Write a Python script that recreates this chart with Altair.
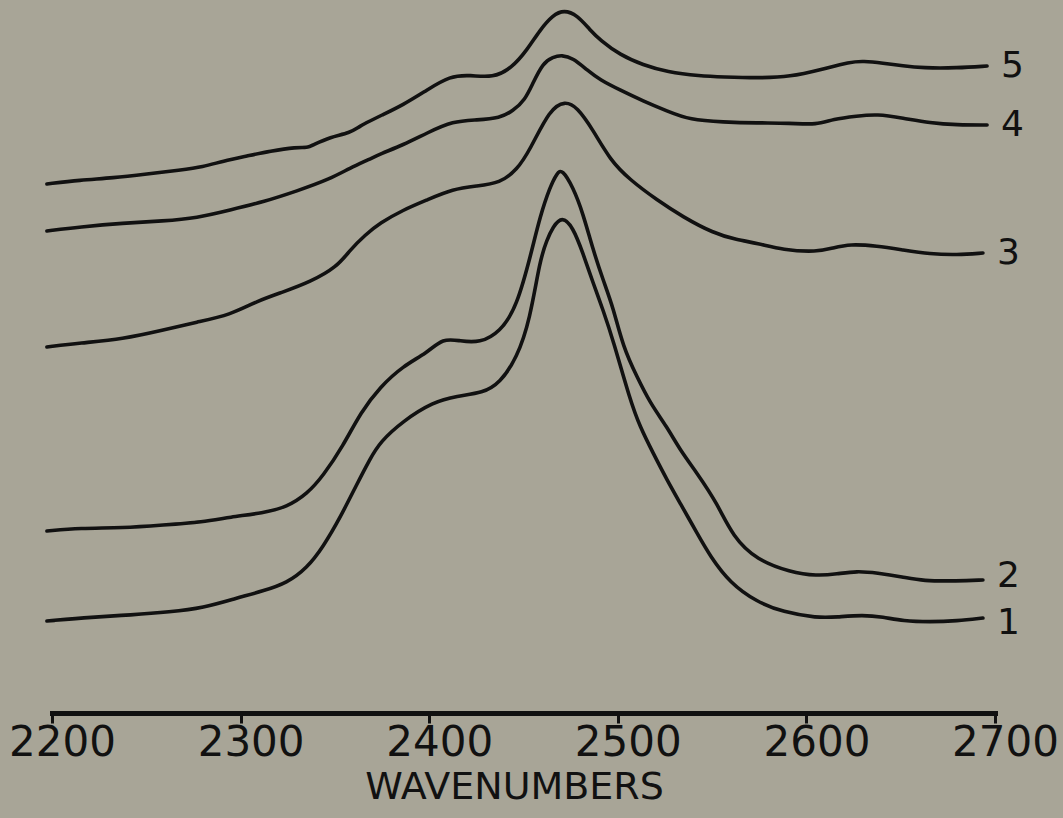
import altair as alt
import pandas as pd

# Five offset absorbance traces, 2200-2700 cm^-1 (arbitrary stacked units)
wn_5 = [2197.3, 2214.8, 2232.3, 2250.4, 2267.9, 2280.1, 2290.7, 2303.4, 2315.6, 2329.9,
        2335.2, 2338.4, 2347.4, 2358.0, 2363.3, 2368.6, 2373.9, 2386.1, 2398.8, 2411.0,
        2421.6, 2433.8, 2443.8, 2451.9, 2458.7, 2465.6, 2471.5, 2478.4, 2485.3, 2490.6,
        2501.2, 2513.4, 2526.1, 2543.6, 2555.8, 2573.8, 2591.3, 2608.8, 2623.1, 2630.0,
        2640.6, 2651.2, 2661.8, 2679.8, 2695.8]
ab_5 = [5.29, 5.33, 5.35, 5.39, 5.43, 5.46, 5.52, 5.57, 5.62, 5.66,
        5.65, 5.68, 5.76, 5.80, 5.87, 5.92, 5.97, 6.08, 6.23, 6.37,
        6.38, 6.35, 6.45, 6.63, 6.83, 6.98, 7.03, 6.98, 6.83, 6.73,
        6.58, 6.48, 6.41, 6.37, 6.36, 6.35, 6.36, 6.44, 6.51, 6.52,
        6.50, 6.47, 6.45, 6.45, 6.47]

wn_4 = [2197.3, 2214.8, 2237.6, 2258.9, 2276.9, 2294.4, 2311.9, 2329.9, 2347.4, 2358.0,
        2368.6, 2373.9, 2386.1, 2398.8, 2412.6, 2425.3, 2437.5, 2444.4, 2450.8, 2455.0,
        2460.3, 2465.6, 2470.4, 2476.2, 2483.7, 2490.6, 2501.2, 2513.4, 2526.1, 2538.3,
        2555.8, 2573.8, 2591.3, 2605.6, 2614.1, 2626.8, 2637.4, 2651.2, 2665.5, 2679.8,
        2695.8]
ab_4 = [4.82, 4.86, 4.90, 4.92, 4.95, 5.03, 5.11, 5.22, 5.34, 5.45,
        5.54, 5.59, 5.68, 5.80, 5.92, 5.93, 5.95, 6.02, 6.13, 6.30,
        6.50, 6.56, 6.58, 6.55, 6.43, 6.33, 6.23, 6.12, 6.02, 5.93,
        5.91, 5.90, 5.90, 5.88, 5.94, 5.97, 5.99, 5.95, 5.90, 5.88,
        5.88]

wn_3 = [2197.3, 2214.8, 2237.6, 2258.9, 2276.9, 2294.4, 2308.7, 2322.5, 2336.8, 2351.1,
        2358.0, 2366.0, 2373.9, 2386.1, 2398.8, 2412.6, 2425.3, 2437.5, 2446.5, 2453.4,
        2464.0, 2472.0, 2478.4, 2486.9, 2495.9, 2506.5, 2520.8, 2534.6, 2550.5, 2563.2,
        2573.8, 2587.6, 2605.6, 2614.1, 2623.1, 2637.4, 2651.2, 2665.5, 2679.8, 2693.6]
ab_3 = [3.66, 3.70, 3.74, 3.83, 3.91, 3.98, 4.12, 4.21, 4.31, 4.46,
        4.63, 4.78, 4.90, 5.03, 5.13, 5.24, 5.27, 5.30, 5.43, 5.63,
        6.04, 6.12, 6.06, 5.83, 5.53, 5.33, 5.13, 4.96, 4.80, 4.73,
        4.70, 4.63, 4.61, 4.65, 4.69, 4.67, 4.63, 4.59, 4.58, 4.60]

wn_2 = [2197.3, 2214.8, 2237.6, 2258.9, 2280.1, 2294.4, 2311.9, 2324.6, 2335.2, 2343.7,
        2354.3, 2363.8, 2373.9, 2386.1, 2398.8, 2407.3, 2416.3, 2426.9, 2437.5, 2446.5,
        2454.5, 2458.7, 2464.0, 2467.8, 2470.4, 2476.2, 2481.5, 2486.9, 2492.2, 2497.5,
        2502.8, 2510.2, 2517.1, 2526.1, 2533.0, 2542.0, 2552.6, 2561.1, 2573.8, 2591.3,
        2605.6, 2616.2, 2626.8, 2637.4, 2651.2, 2661.8, 2679.8, 2693.6]
ab_2 = [1.82, 1.85, 1.85, 1.88, 1.91, 1.96, 2.00, 2.06, 2.19, 2.37,
        2.67, 3.01, 3.26, 3.47, 3.60, 3.75, 3.72, 3.70, 3.81, 4.06,
        4.63, 4.96, 5.26, 5.40, 5.44, 5.26, 5.00, 4.63, 4.33, 4.06,
        3.66, 3.36, 3.10, 2.86, 2.63, 2.40, 2.10, 1.76, 1.53, 1.41,
        1.37, 1.39, 1.42, 1.40, 1.36, 1.32, 1.32, 1.33]

wn_1 = [2197.3, 2221.7, 2241.4, 2262.6, 2280.1, 2298.1, 2311.9, 2324.6, 2335.2, 2343.7,
        2352.7, 2361.7, 2368.6, 2373.9, 2386.1, 2402.0, 2414.7, 2428.5, 2437.5, 2446.5,
        2453.4, 2458.7, 2462.4, 2465.6, 2470.4, 2476.2, 2481.5, 2486.9, 2492.2, 2497.5,
        2506.5, 2511.8, 2518.7, 2526.1, 2533.0, 2542.0, 2548.9, 2559.5, 2573.8, 2587.6,
        2605.6, 2616.2, 2630.0, 2640.6, 2651.2, 2665.5, 2679.8, 2693.6]
ab_1 = [0.92, 0.96, 0.98, 1.01, 1.05, 1.15, 1.22, 1.30, 1.45, 1.66,
        1.95, 2.29, 2.54, 2.71, 2.92, 3.11, 3.17, 3.20, 3.30, 3.55,
        3.93, 4.53, 4.73, 4.86, 4.97, 4.86, 4.60, 4.30, 4.03, 3.73,
        3.13, 2.86, 2.60, 2.33, 2.10, 1.80, 1.57, 1.30, 1.11, 1.01,
        0.95, 0.96, 0.98, 0.96, 0.92, 0.91, 0.92, 0.95]

series_names = ["1", "2", "3", "4", "5"]
wn_all = [wn_1, wn_2, wn_3, wn_4, wn_5]
ab_all = [ab_1, ab_2, ab_3, ab_4, ab_5]

x_ticks = [2200, 2300, 2400, 2500, 2600, 2700]

rows = []
for name, wns, abs_ in zip(series_names, wn_all, ab_all):
    for i, (w, a) in enumerate(zip(wns, abs_)):
        rows.append({"series": name, "order": i, "wavenumber": w, "absorbance": a})
df = pd.DataFrame(rows)

# curve numbers sit just past the right end of each trace
ends = df.sort_values("order").groupby("series").tail(1)

FONT = "DejaVu Sans"
INK = "#111111"
PAPER = "#a8a597"

x_scale = alt.Scale(domain=[2200, 2700], nice=False, zero=False)
y_scale = alt.Scale(domain=[0, 7.13], nice=False, zero=False)

x_axis = alt.Axis(
    values=x_ticks, format="d", title="WAVENUMBERS", grid=False,
    domainColor=INK, domainWidth=5, domainCap="square",
    tickColor=INK, tickWidth=3, tickSize=10,
    labelFont=FONT, labelFontSize=42, labelColor=INK, labelPadding=-1,
    labelOffset=10, labelFlush=False, labelOverlap=False,
    titleFont=FONT, titleFontSize=38, titleFontWeight="normal", titleColor=INK,
    titlePadding=5, titleX=462, titleAnchor="middle",
)

lines = alt.Chart(df).mark_line(
    color=INK, strokeWidth=3.6, interpolate="basis", strokeCap="round", clip=False
).encode(
    x=alt.X("wavenumber:Q", scale=x_scale, axis=x_axis),
    y=alt.Y("absorbance:Q", scale=y_scale, axis=None),
    detail="series:N",
    order="order:Q",
)


def end_label(names, dy):
    return alt.Chart(ends).transform_filter(
        alt.FieldOneOfPredicate(field="series", oneOf=names)
    ).mark_text(
        align="left", baseline="middle", dx=14, dy=dy, font=FONT, fontSize=36, color=INK
    ).encode(
        x=alt.X("wavenumber:Q", scale=x_scale),
        y=alt.Y("absorbance:Q", scale=y_scale),
        text="series:N",
    )


labels = end_label(["3", "4", "5"], 0) + end_label(["2"], -4) + end_label(["1"], 5)

chart = alt.layer(lines, labels).properties(
    width=943, height=713,
    autosize=alt.AutoSizeParams(type="none"),
    padding={"left": 52, "top": 0, "right": 68, "bottom": 105},
    background=PAPER,
).configure_view(stroke=None)

chart.save("out.html", embed_options={"renderer": "svg", "actions": False})
